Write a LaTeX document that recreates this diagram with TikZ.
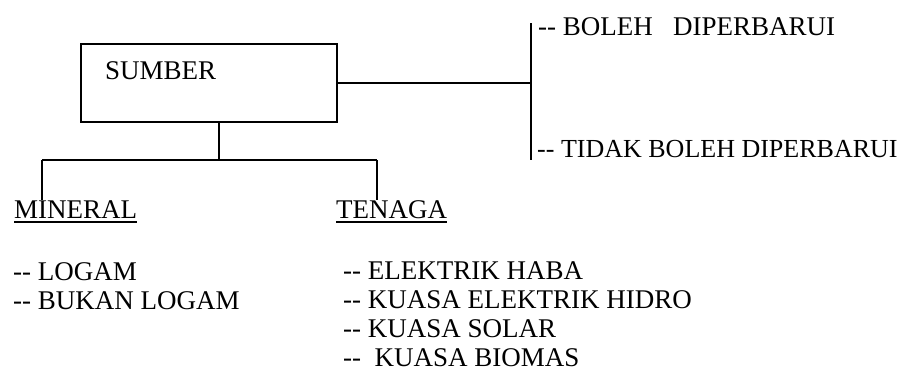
\documentclass[tikz,border=0pt]{standalone}
\usepackage{fontspec}
\setmainfont{Liberation Serif}
\usetikzlibrary{positioning, calc}

\tikzset{
  teks/.style={inner sep=0pt, anchor=base west, font=\fontsize{27}{30}\selectfont},
  kotak/.style={draw, line width=2pt, minimum width=256pt, minimum height=78pt, inner sep=0pt},
  garis/.style={line width=1.6pt},
  garisbawah/.style={line width=1.4pt},
}

\begin{document}
\begin{tikzpicture}[x=1pt, y=-1pt]
    \useasboundingbox (0,0) rectangle (909,373);

    % Kotak utama
    \node[kotak] (sumber) at (209,83) {};
    \node[teks] (sumberteks) at (105,79) {SUMBER};

    % Cabang kanan
    \node[teks] (boleh) at (538,35) {-{}- BOLEH\ \ \ DIPERBARUI};
    \node[teks, font=\fontsize{26}{30}\selectfont] (tidak) at (537,157) {-{}- TIDAK BOLEH DIPERBARUI};
    \coordinate (simpang) at (531,83);
    \coordinate (atas) at (531,23);
    \coordinate (bawah) at (531,160);
    \draw[garis] (sumber.east) -- (simpang);
    \draw[garis] (atas) -- (bawah);

    % Cabang bawah
    \node[teks] (mineral) at (14,218) {MINERAL};
    \node[teks] (tenaga) at (336,218) {TENAGA};
    \draw[garisbawah] ([yshift=-4pt]mineral.base west) -- ([yshift=-4pt]mineral.base east);
    \draw[garisbawah] ([yshift=-4pt]tenaga.base west) -- ([yshift=-4pt]tenaga.base east);

    \coordinate (pisah) at (219,160);
    \coordinate (kiri) at (42,160);
    \coordinate (kanan) at (377,160);
    \draw[garis] (pisah |- sumber.south) -- (pisah);
    \draw[garis] (kiri) -- (kanan);
    \draw[garis] (kiri) -- (kiri |- mineral.north);
    \draw[garis] (kanan) -- (kanan |- tenaga.north);

    % Senarai mineral
    \node[teks] (logam) at (13,280) {-{}- LOGAM};
    \node[teks] (bukanlogam) at (13,309) {-{}- BUKAN LOGAM};

    % Senarai tenaga
    \foreach \teks [count=\i] in {ELEKTRIK HABA, KUASA ELEKTRIK HIDRO, KUASA SOLAR, \ KUASA BIOMAS} {
        \node[teks] (tenaga\i) at (343,250+29*\i) {-{}- \teks};
    }
\end{tikzpicture}
\end{document}
